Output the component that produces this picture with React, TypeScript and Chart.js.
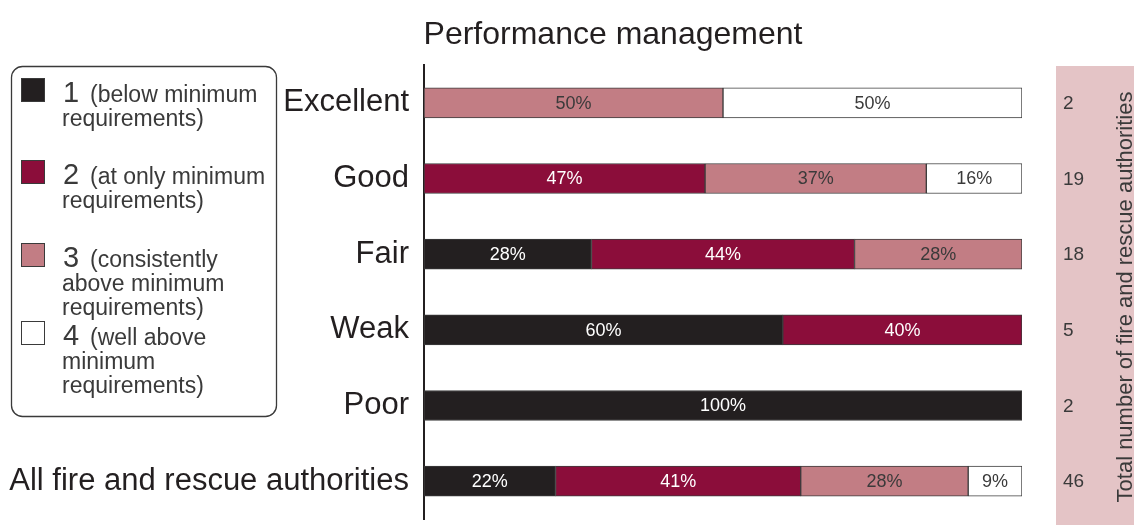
import React, { useEffect, useRef } from 'react';
import { Chart, registerables } from 'chart.js';

Chart.register(...registerables);

const categories = ['Excellent', 'Good', 'Fair', 'Weak', 'Poor', 'All fire and rescue authorities'];
const level1 = [null, null, 28, 60, 100, 22];
const level2 = [null, 47, 44, 40, null, 41];
const level3 = [50, 37, 28, null, null, 28];
const level4 = [50, 16, null, null, null, 9];
const totals = [2, 19, 18, 5, 2, 46];
const seriesNames = ['1', '2', '3', '4'];
const legendTexts = [
  ['(below minimum', 'requirements)'],
  ['(at only minimum', 'requirements)'],
  ['(consistently', 'above minimum', 'requirements)'],
  ['(well above', 'minimum', 'requirements)'],
];
const chartTitle = 'Performance management';
const totalsTitle = 'Total number of fire and rescue authorities';

const COLORS = ['#231f20', '#8b0d3a', '#c27d84', '#ffffff'];
const LABEL_COLORS = ['#ffffff', '#ffffff', '#3a3a3a', '#3a3a3a'];
const FONT = '"Liberation Sans", Arial, sans-serif';
const TEXT = '#231f20';

const decorPlugin = {
  id: 'decor',
  beforeDraw(chart: any) {
    const ctx = chart.ctx;
    ctx.save();
    ctx.fillStyle = '#e4c4c6';
    ctx.fillRect(1056, 66, 78, 459);
    ctx.restore();
  },
  afterDraw(chart: any) {
    const ctx = chart.ctx;
    const yScale = chart.scales.y;
    ctx.save();
    ctx.fillStyle = TEXT;
    ctx.font = `32px ${FONT}`;
    ctx.textAlign = 'center';
    ctx.textBaseline = 'alphabetic';
    ctx.fillText(chartTitle, 613, 44);

    ctx.fillStyle = '#3a3a3a';
    ctx.font = `19px ${FONT}`;
    ctx.textAlign = 'left';
    ctx.textBaseline = 'middle';
    totals.forEach((t, i) => {
      ctx.fillText(String(t), 1063, yScale.getPixelForValue(i) + 1);
    });

    ctx.save();
    ctx.translate(1126, 297);
    ctx.rotate(-Math.PI / 2);
    ctx.textAlign = 'center';
    ctx.textBaseline = 'middle';
    ctx.font = `22px ${FONT}`;
    ctx.fillStyle = '#3a3a3a';
    ctx.fillText(totalsTitle, 0, 0);
    ctx.restore();

    const bx = 11.5, by = 66.5, bw = 265, bh = 350, r = 11;
    ctx.beginPath();
    ctx.moveTo(bx + r, by);
    ctx.arcTo(bx + bw, by, bx + bw, by + bh, r);
    ctx.arcTo(bx + bw, by + bh, bx, by + bh, r);
    ctx.arcTo(bx, by + bh, bx, by, r);
    ctx.arcTo(bx, by, bx + bw, by, r);
    ctx.closePath();
    ctx.strokeStyle = '#3a3a3a';
    ctx.lineWidth = 1.3;
    ctx.stroke();

    const baselines = [
      [102, 126],
      [184, 208],
      [267, 291, 315],
      [345, 369, 393],
    ];
    seriesNames.forEach((name, i) => {
      const b = baselines[i];
      ctx.fillStyle = COLORS[i];
      ctx.fillRect(21.5, b[0] - 23.5, 23, 23);
      ctx.strokeStyle = '#3a3a3a';
      ctx.lineWidth = 1;
      ctx.strokeRect(21.5, b[0] - 23.5, 23, 23);
      ctx.fillStyle = '#3a3a3a';
      ctx.textAlign = 'left';
      ctx.textBaseline = 'alphabetic';
      ctx.font = `29px ${FONT}`;
      ctx.fillText(name, 63, b[0]);
      ctx.font = `23px ${FONT}`;
      legendTexts[i].forEach((line, j) => {
        ctx.fillText(line, j === 0 ? 90 : 62, b[j]);
      });
    });

    ctx.restore();
  },
  afterDatasetsDraw(chart: any) {
    const ctx = chart.ctx;
    ctx.save();
    ctx.font = `18px ${FONT}`;
    ctx.textAlign = 'center';
    ctx.textBaseline = 'middle';
    chart.data.datasets.forEach((ds: any, di: number) => {
      const meta = chart.getDatasetMeta(di);
      meta.data.forEach((bar: any, i: number) => {
        const v = ds.data[i];
        if (v == null) return;
        const left = Math.min(bar.x, bar.base);
        const right = Math.max(bar.x, bar.base);
        ctx.fillStyle = LABEL_COLORS[di];
        ctx.fillText(`${v}%`, (left + right) / 2, bar.y + 1);
      });
    });
    ctx.restore();
  },
};

export default function App() {
  const ref = useRef<HTMLCanvasElement>(null);
  useEffect(() => {
    if (!ref.current) return;
    const series = [level1, level2, level3, level4];
    const chart = new Chart(ref.current, {
      type: 'bar',
      data: {
        labels: categories,
        datasets: series.map((d, i) => ({
          label: seriesNames[i],
          data: d,
          backgroundColor: COLORS[i],
          borderColor: '#3d3d3d',
          borderWidth: 1,
          borderSkipped: false,
          barThickness: 30,
        })),
      },
      options: {
        indexAxis: 'y',
        responsive: false,
        animation: false,
        layout: { padding: { left: 0, right: 112, top: 65, bottom: 6 } },
        plugins: {
          legend: { display: false },
          title: { display: false },
          tooltip: { enabled: false },
        },
        scales: {
          x: {
            stacked: true,
            min: 0,
            max: 100,
            display: false,
          },
          y: {
            stacked: true,
            afterFit: (scale: any) => {
              scale.width = 424;
              scale.paddingTop = 0;
              scale.paddingBottom = 0;
            },
            grid: { display: false, drawTicks: false },
            border: { display: true, color: '#231f20', width: 2 },
            ticks: {
              padding: 15,
              color: TEXT,
              font: { family: FONT, size: 31 },
            },
          },
        },
      },
      plugins: [decorPlugin],
    });
    return () => chart.destroy();
  }, []);
  return (
    <div style={{ position: 'fixed', left: 0, top: 0, width: 1134, height: 525, background: '#fff' }}>
      <canvas ref={ref} width={1134} height={525} style={{ display: 'block' }} />
    </div>
  );
}
